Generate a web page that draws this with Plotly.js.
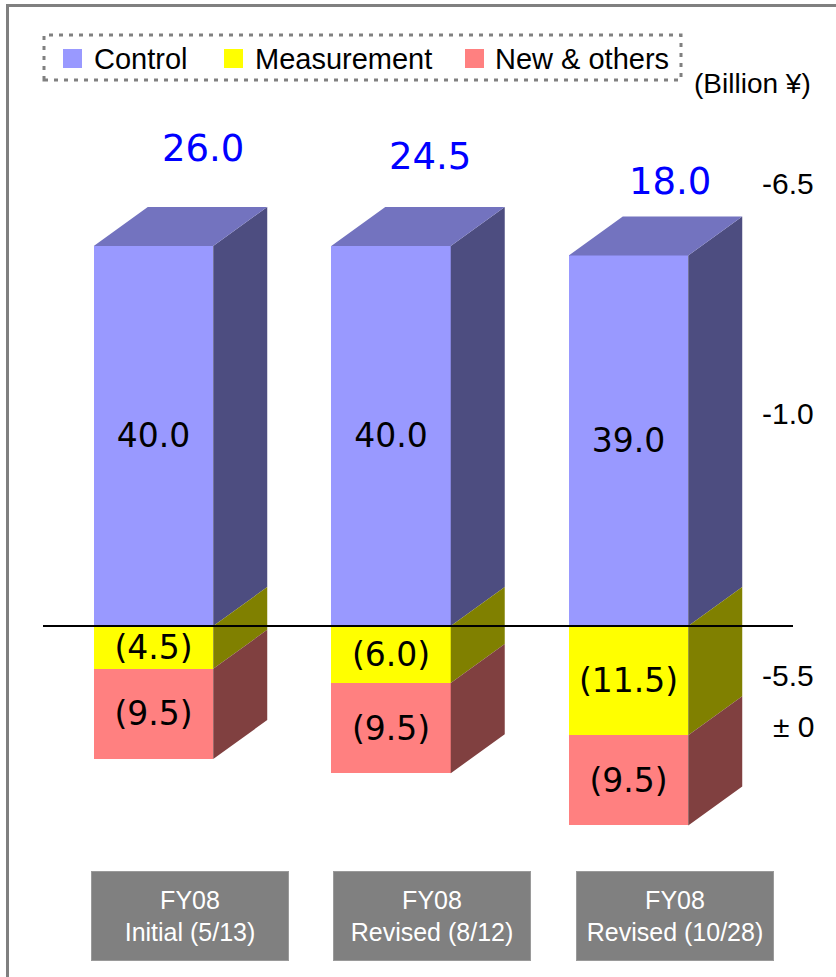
<!DOCTYPE html>
<html>
<head>
<meta charset="utf-8">
<script src="https://cdn.plot.ly/plotly-3.0.1.min.js"></script>
<style>html,body{margin:0;padding:0;background:#fff;}#chart{width:836px;height:977px;}</style>
</head>
<body>
<div id="chart"></div>
<script>
// ---- data ----
const categories = ['FY08<br>Initial (5/13)', 'FY08<br>Revised (8/12)', 'FY08<br>Revised (10/28)'];
const seriesNames = ['Control', 'Measurement', 'New & others'];
const control = [40.0, 40.0, 39.0];
const measurement = [-4.5, -6.0, -11.5];
const newOthers = [-9.5, -9.5, -9.5];
const unitLabel = '(Billion ¥)';

// ---- styling / layout constants ----
const W = 836, H = 977;
const frontColors = ['#9999FF', '#FFFF00', '#FF8080'];
const sideColors = ['#4D4D80', '#808000', '#804040'];
const topColor = '#7373BF';
const barWidth = 0.503;
const depthX = 0.2274;   // 3D depth in x units
const depthY = 4.1;      // 3D depth in y units
const xRange = [-0.6463, 2.8737];
const yRange = [-36.95, 65.89];
const totalLabelDx = [0.208, 0.164, 0.175];
const totalLabelDy = [10.3, 9.4, 7.8];
const diffLabelY = [46.6, 22.4, -5.2, -10.6];
const boxCenterPx = [190, 432, 674.5];

const px = x => x / W;
const py = y => 1 - y / H;
const xi = categories.map((_, i) => i);
const fmt = v => v < 0 ? '(' + Math.abs(v).toFixed(1) + ')' : v.toFixed(1);

const labelFont = {family: 'DejaVu Sans, Verdana, sans-serif', size: 33, color: '#000'};
const traces = [];
const seriesVals = [control, measurement, newOthers];
seriesVals.forEach((vals, s) => {
  traces.push({
    type: 'bar', x: xi, y: vals, width: barWidth, name: seriesNames[s],
    marker: {color: frontColors[s], line: {width: 0}},
    text: vals.map(fmt), textposition: 'inside', insidetextanchor: 'middle',
    textangle: 0, constraintext: 'none', textfont: labelFont,
    hoverinfo: 'skip', showlegend: false
  });
});

// 3D faces built from the data
function sidePoly(i, ya, yb) {
  const xr = i + barWidth / 2;
  return {x: [xr, xr + depthX, xr + depthX, xr, xr, null], y: [ya, ya + depthY, yb + depthY, yb, ya, null]};
}
const segs = [[], [], []];
xi.forEach(i => {
  segs[0].push(sidePoly(i, 0, control[i]));
  segs[1].push(sidePoly(i, 0, measurement[i]));
  segs[2].push(sidePoly(i, measurement[i], measurement[i] + newOthers[i]));
});
segs.forEach((list, s) => {
  const x = [], y = [];
  list.forEach(p => { x.push(...p.x); y.push(...p.y); });
  traces.push({type: 'scatter', mode: 'lines', x, y, fill: 'toself', fillcolor: sideColors[s],
    line: {width: 0, color: sideColors[s]}, hoverinfo: 'skip', showlegend: false});
});
{
  const x = [], y = [];
  xi.forEach(i => {
    const xl = i - barWidth / 2, xr = i + barWidth / 2, t = control[i];
    x.push(xl, xl + depthX, xr + depthX, xr, xl, null);
    y.push(t, t + depthY, t + depthY, t, t, null);
  });
  traces.push({type: 'scatter', mode: 'lines', x, y, fill: 'toself', fillcolor: topColor,
    line: {width: 0, color: topColor}, hoverinfo: 'skip', showlegend: false});
}

const totals = xi.map(i => control[i] + measurement[i] + newOthers[i]);
const annotations = [];
xi.forEach(i => {
  annotations.push({xref: 'x', yref: 'y', x: i + totalLabelDx[i], y: control[i] + totalLabelDy[i],
    text: totals[i].toFixed(1), showarrow: false, xanchor: 'center', yanchor: 'middle',
    font: {family: 'DejaVu Sans, Verdana, sans-serif', size: 37, color: '#0000FF'}});
  annotations.push({xref: 'paper', yref: 'paper', x: px(boxCenterPx[i]), y: py(916), text: categories[i],
    showarrow: false, xanchor: 'center', yanchor: 'middle', width: 196, height: 88,
    bgcolor: '#808080', bordercolor: '#9a9a9a', borderwidth: 1, borderpad: 0,
    font: {family: 'Liberation Sans, Arial, sans-serif', size: 25, color: '#fff'}});
});
// differences latest vs previous revision
const last = xi.length - 1, prev = last - 1;
const diffs = [totals[last] - totals[prev], control[last] - control[prev],
  measurement[last] - measurement[prev], newOthers[last] - newOthers[prev]];
diffs.forEach((d, k) => {
  const t = Math.abs(d) < 1e-9 ? '± 0' : (d > 0 ? '+' : '-') + Math.abs(d).toFixed(1);
  annotations.push({xref: 'paper', yref: 'y', x: px(816), y: diffLabelY[k], text: t, showarrow: false,
    xanchor: 'right', yanchor: 'middle', font: {family: 'Liberation Sans, Arial, sans-serif', size: 30, color: '#000'}});
});
annotations.push({xref: 'paper', yref: 'paper', x: px(692), y: py(83), text: unitLabel, showarrow: false,
  xanchor: 'left', yanchor: 'middle', font: {family: 'Liberation Sans, Arial, sans-serif', size: 28, color: '#000'}});

// custom legend
const shapes = [];
const legendSq = [63, 224, 465];
const legendTx = [92, 253, 493];
seriesNames.forEach((n, s) => {
  shapes.push({type: 'rect', xref: 'paper', yref: 'paper', x0: px(legendSq[s]), x1: px(legendSq[s] + 19),
    y0: py(68), y1: py(49), fillcolor: frontColors[s], line: {width: 0}});
  annotations.push({xref: 'paper', yref: 'paper', x: px(legendTx[s]), y: py(59), text: n, showarrow: false,
    xanchor: 'left', yanchor: 'middle', font: {family: 'Liberation Sans, Arial, sans-serif', size: 29, color: '#000'}});
});
shapes.push({type: 'rect', xref: 'paper', yref: 'paper', x0: px(44), x1: px(681), y0: py(80), y1: py(35),
  line: {color: '#808080', width: 3, dash: '4px,6px'}, fillcolor: 'rgba(0,0,0,0)'});
// outer frame (left and top)
shapes.push({type: 'path', xref: 'paper', yref: 'paper',
  path: `M ${7.5} ${H + 5} L ${7.5} ${5.5} L ${W + 5} ${5.5}`.replace(/([\d.]+) ([\d.]+)/g, (m, a, b) => px(+a) + ',' + py(+b)),
  line: {color: '#808080', width: 3}});
// zero line
shapes.push({type: 'line', xref: 'paper', yref: 'y', x0: px(43), x1: px(793), y0: 0, y1: 0,
  line: {color: '#000', width: 2}, layer: 'above'});

const layout = {
  width: W, height: H, margin: {l: 0, r: 0, t: 0, b: 0, pad: 0},
  paper_bgcolor: '#fff', plot_bgcolor: '#fff', barmode: 'relative', bargap: 0,
  xaxis: {range: xRange, visible: false, fixedrange: true},
  yaxis: {range: yRange, visible: false, fixedrange: true},
  showlegend: false, annotations, shapes
};
Plotly.newPlot('chart', traces, layout, {displayModeBar: false, staticPlot: true});
</script>
</body>
</html>
